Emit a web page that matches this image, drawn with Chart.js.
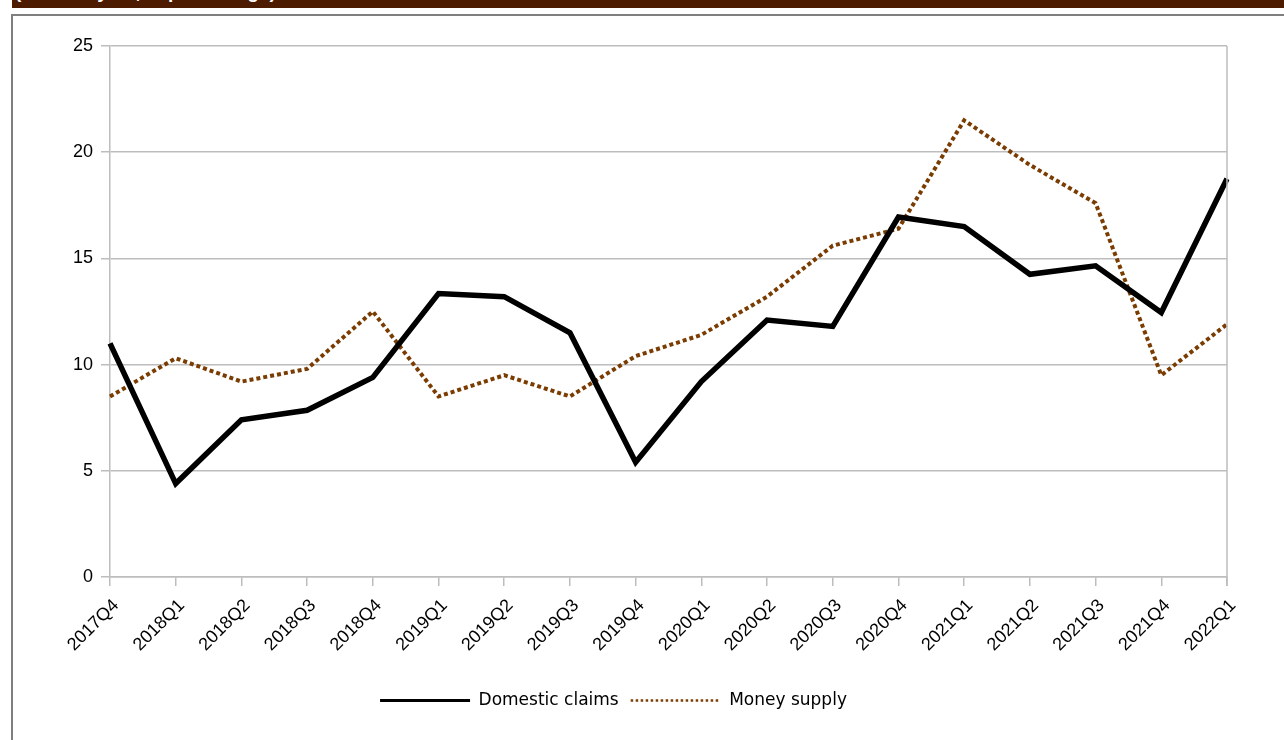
<!DOCTYPE html>
<html>
<head>
<meta charset="utf-8">
<script src="https://cdn.jsdelivr.net/npm/chart.js@4.4.1/dist/chart.umd.min.js"></script>
<style>
  html,body{margin:0;padding:0;background:#fff;}
  body{width:1284px;height:740px;position:relative;overflow:hidden;}
  #banner{position:absolute;left:12px;top:0;width:1272px;height:8px;background:#4d1b00;overflow:hidden;}
  #banner span{position:absolute;left:3px;top:-19px;color:#fff;font:bold 19px "Liberation Sans",Arial,sans-serif;white-space:nowrap;}
  #frame{position:absolute;left:11px;top:14px;width:1320px;height:760px;border-top:2px solid #7f7f7f;border-left:2px solid #7f7f7f;}
  #wrap{position:absolute;left:0;top:0;width:1284px;height:740px;}
</style>
</head>
<body>
<div id="banner"><span>(Year-on-year, in percentage)</span></div>
<div id="frame"></div>
<div id="wrap"><canvas id="chart"></canvas></div>
<script>
// données
const quarters = ['2017Q4','2018Q1','2018Q2','2018Q3','2018Q4','2019Q1','2019Q2','2019Q3','2019Q4',
  '2020Q1','2020Q2','2020Q3','2020Q4','2021Q1','2021Q2','2021Q3','2021Q4','2022Q1'];
const domesticClaims = [11.0, 4.4, 7.4, 7.85, 9.4, 13.35, 13.2, 11.5, 5.4, 9.2, 12.1, 11.8, 16.95, 16.5, 14.25, 14.65, 12.45, 18.75];
const moneySupply = [8.5, 10.3, 9.2, 9.8, 12.5, 8.5, 9.5, 8.5, 10.4, 11.4, 13.2, 15.6, 16.4, 21.5, 19.4, 17.6, 9.5, 11.9];
const yTicks = [0, 5, 10, 15, 20, 25];

const gridGrey = '#bdbdbd';
const brown = '#7a3c00';
const axisFont = {family:'"Liberation Sans", Arial, sans-serif', size:18};

// bordure droite de la zone de tracé
const plotBorder = {
  id:'plotBorder',
  afterDatasetsDraw(chart){
    const {ctx, chartArea:a} = chart;
    ctx.save();
    ctx.strokeStyle = gridGrey; ctx.lineWidth = 1.5;
    ctx.beginPath(); ctx.moveTo(a.right, a.top); ctx.lineTo(a.right, a.bottom + 9); ctx.stroke();
    ctx.restore();
  }
};

new Chart(document.getElementById('chart').getContext('2d'), {
  type:'line',
  data:{
    labels: quarters,
    datasets:[
      {label:'Domestic claims', data:domesticClaims, borderColor:'#000', backgroundColor:'#000',
       borderWidth:5.5, borderJoinStyle:'miter', tension:0, pointRadius:0, fill:false},
      {label:'Money supply', data:moneySupply, borderColor:brown, backgroundColor:brown,
       borderWidth:4, borderDash:[4,3], borderCapStyle:'butt', tension:0, pointRadius:0, fill:false}
    ]
  },
  options:{
    responsive:true, maintainAspectRatio:false, animation:false,
    layout:{padding:{left:0, right:57, top:46, bottom:21}},
    plugins:{
      tooltip:{enabled:false},
      legend:{
        position:'bottom',
        labels:{
          color:'#000', font:{family:'"DejaVu Sans", sans-serif', size:17},
          usePointStyle:true, pointStyle:'line', pointStyleWidth:90, padding:12,
          generateLabels(chart){
            return chart.data.datasets.map((ds,i)=>({
              text: ds.label, datasetIndex:i, pointStyle:'line',
              strokeStyle: ds.borderColor, fillStyle: ds.borderColor,
              lineWidth: i===0 ? 3 : 2.5, lineDash: i===0 ? [] : [2.5,2.5], fontColor:'#000'
            }));
          }
        }
      }
    },
    scales:{
      x:{
        offset:false,
        grid:{drawOnChartArea:false, drawTicks:true, tickLength:9, color:gridGrey, lineWidth:1.5},
        border:{color:gridGrey, width:1.5},
        ticks:{color:'#000', font:axisFont, minRotation:45, maxRotation:45, autoSkip:false,
               padding:9, labelOffset:6},
        afterFit(s){ s.height = 103; }
      },
      y:{
        min:0, max:25,
        afterBuildTicks(s){ s.ticks = yTicks.map(v=>({value:v})); },
        grid:{color:gridGrey, lineWidth:1.5, tickLength:9},
        border:{color:gridGrey, width:1.5},
        ticks:{color:'#000', font:axisFont, padding:8},
        afterFit(s){ s.width = 110; }
      }
    }
  },
  plugins:[plotBorder]
});
</script>
</body>
</html>
